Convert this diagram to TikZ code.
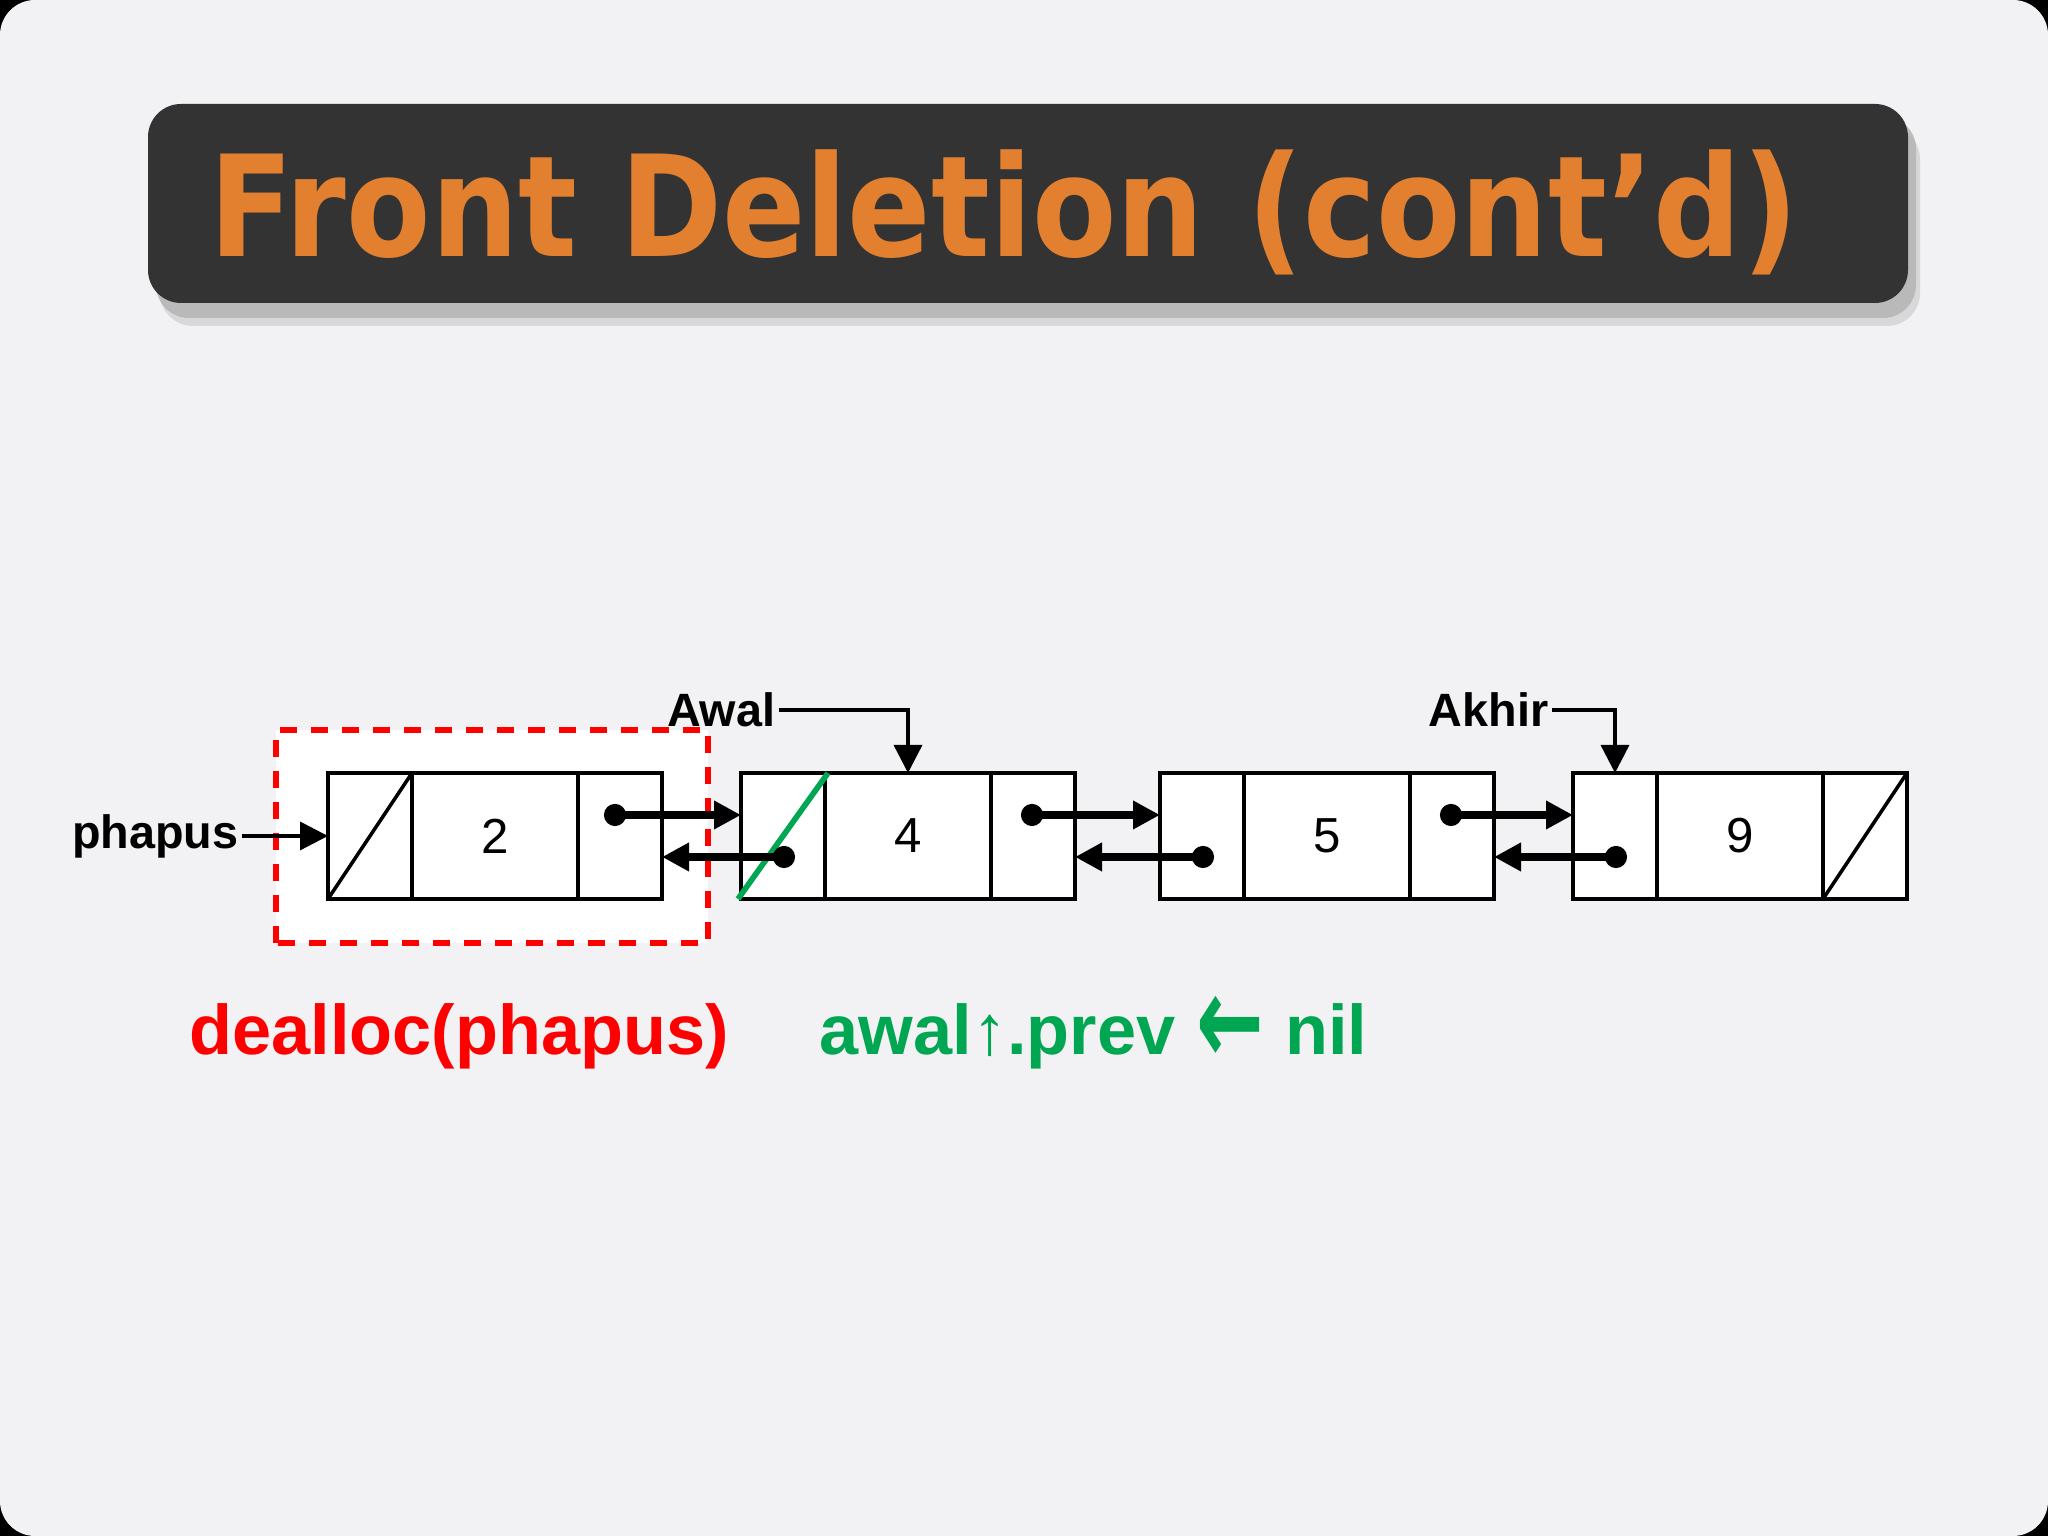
\documentclass[tikz,border=0pt]{standalone}
\usepackage{fontspec}
\usepackage{graphicx}
\setmainfont{Liberation Sans}
\newfontfamily\titlefont{DejaVu Sans}
\usetikzlibrary{arrows.meta,positioning,calc}
\definecolor{slidebg}{HTML}{F2F1F3}
\definecolor{titlebg}{HTML}{333333}
\definecolor{titleorange}{HTML}{E2802F}
\definecolor{nilgreen}{HTML}{00A651}
% one node of the doubly linked list: prev | data | next
\newcommand{\dlnode}[3]{%
    \node[ptrcell, anchor=west] (#1p) at (#2) {};
    \node[datacell, right=0pt of #1p] (#1d) {#3};
    \node[ptrcell, right=0pt of #1d] (#1n) {};
}

\begin{document}
\begin{tikzpicture}[
        ptrcell/.style={draw, fill=white, line width=1pt, minimum width=0.84cm,
            minimum height=1.26cm, inner sep=0pt, outer sep=0pt},
        datacell/.style={ptrcell, minimum width=1.66cm, font=\fontsize{14}{16}\selectfont},
        link/.style={line width=2.4pt, {Circle[length=0.22cm]}-{Triangle[length=0.27cm,width=0.27cm]}},
        ptr/.style={line width=1pt, -{Triangle[length=0.28cm,width=0.28cm]}},
        lbl/.style={font=\fontsize{13.3}{16}\selectfont\bfseries, inner sep=0.03cm},
        cmd/.style={font=\fontsize{20}{24}\selectfont\bfseries, inner sep=0pt, anchor=base west}
    ]
    \useasboundingbox (0,0) rectangle (20.48,15.36);
    \fill[black] (0,0) rectangle (20.48,15.36);
    \fill[slidebg, rounded corners=0.35cm] (0,0) rectangle (20.48,15.36);

    % title bar
    \fill[black!45, opacity=0.5, rounded corners=0.33cm] (1.56,12.18) rectangle (19.16,14.20);
    \fill[black!30, opacity=0.4, rounded corners=0.33cm] (1.60,12.10) rectangle (19.20,14.10);
    \fill[titlebg, rounded corners=0.33cm] (1.48,12.33) rectangle (19.08,14.32);
    \node[anchor=base west, inner sep=0pt, text=titleorange] (title) at (2.09,12.79)
        {\scalebox{0.875}[1]{\titlefont\bfseries\fontsize{40}{44}\selectfont Front Deletion (cont’d)}};

    % node being removed
    \draw[red, fill=white, line width=1.7pt, dash pattern=on 0.17cm off 0.14cm] (2.76,5.93) rectangle (7.08,8.06);

    \dlnode{n1}{3.28,7}{2}
    \dlnode{n2}{7.41,7}{4}
    \dlnode{n3}{11.60,7}{5}
    \dlnode{n4}{15.73,7}{9}

    \draw[line width=1pt] (n1p.south west) -- (n1p.north east);
    \draw[line width=1pt] (n4n.south west) -- (n4n.north east);
    \draw[nilgreen, line width=1.6pt] ($(n2p.south west)+(-0.03,0)$) -- ($(n2p.north east)+(0.03,0)$);

    \draw[link] ($(n1n.center)+(-0.16,0.21)$) -- ($(n2p.west)+(0,0.21)$);
    \draw[link] ($(n2p.center)+(0.12,-0.21)$) -- ($(n1n.east)+(0,-0.21)$);
    \draw[link] ($(n2n.center)+(-0.12,0.21)$) -- ($(n3p.west)+(0,0.21)$);
    \draw[link] ($(n3p.center)+(0.12,-0.21)$) -- ($(n2n.east)+(0,-0.21)$);
    \draw[link] ($(n3n.center)+(-0.12,0.21)$) -- ($(n4p.west)+(0,0.21)$);
    \draw[link] ($(n4p.center)+(0.12,-0.21)$) -- ($(n3n.east)+(0,-0.21)$);

    % pointer labels
    \node[lbl, anchor=east] (phapus) at (2.42,7) {phapus};
    \node[lbl, anchor=east] (awal) at (7.79,8.26) {Awal};
    \node[lbl, anchor=east] (akhir) at (15.52,8.26) {Akhir};
    \draw[ptr] (phapus.east) -- (n1p.west);
    \draw[ptr] (awal.east) -| (n2d.north);
    \draw[ptr] (akhir.east) -| (n4p.north);

    % statements
    \node[cmd, text=red] (dealloc) at (1.89,4.81) {dealloc(phapus)};
    \node[cmd, text=nilgreen] (setnil) at (8.19,4.81)
        {awal{\mdseries ↑}.prev\hspace{0.3em}\raisebox{-0.14em}{\scalebox{1.15}[1.8]{\titlefont\bfseries ←}}\hspace{0.3em}nil};
\end{tikzpicture}
\end{document}
